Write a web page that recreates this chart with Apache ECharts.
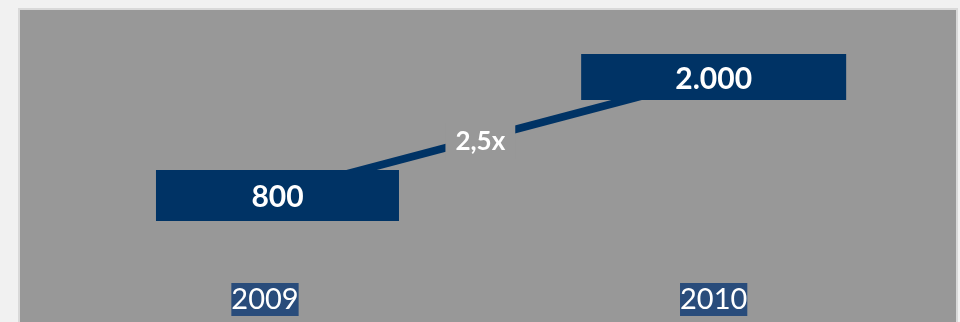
<!DOCTYPE html>
<html>
<head>
<meta charset="utf-8">
<script src="https://cdn.jsdelivr.net/npm/echarts@6/dist/echarts.min.js"></script>
<style>
  html, body { margin: 0; padding: 0; background: #f1f1f1; }
  #chart { width: 960px; height: 322px; }
</style>
</head>
<body>
<div id="chart"></div>
<script>
const categories = ['2009', '2010'];
const revenue = [800, 2000];
const growthLabel = '2,5x';

const navy = '#003365';
const panelGrey = '#989898';
// box sizes / offset per year (styling)
const boxW = [243, 265];
const boxH = [51, 46];
const boxDx = [12.5, 0];

const fmt = v => String(v).replace(/\B(?=(\d{3})+(?!\d))/g, '.');

const myChart = echarts.init(document.getElementById('chart'));
myChart.setOption({
  backgroundColor: '#f1f1f1',
  animation: false,
  graphic: [
    {
      type: 'rect',
      z: -10,
      shape: { x: 19, y: 9, width: 938, height: 320 },
      style: { fill: panelGrey, stroke: '#d9d9d9', lineWidth: 2 }
    }
  ],
  grid: { left: 40.65, right: 22, top: 37.5, bottom: 47.5, outerBoundsMode: 'none' },
  xAxis: {
    type: 'category',
    data: categories,
    axisLine: { show: false },
    axisTick: { show: false },
    splitLine: { show: false },
    axisLabel: {
      color: '#fff',
      fontFamily: 'Lato',
      fontSize: 29,
      lineHeight: 33,
      backgroundColor: '#294c7b',
      padding: [0, 0],
      margin: 8.5
    }
  },
  yAxis: { type: 'value', min: 0, max: 2400, show: false },
  series: [
    {
      // verbindungslinie
      type: 'line',
      data: revenue,
      showSymbol: false,
      z: 1,
      lineStyle: { color: navy, width: 8 },
      silent: true
    },
    {
      // 2,5x label on the line
      type: 'custom',
      z: 2,
      data: [[0, revenue[0], 1, revenue[1]]],
      renderItem: (params, api) => {
        const p0 = api.coord([api.value(0), api.value(1)]);
        const p1 = api.coord([api.value(2), api.value(3)]);
        const t = 0.48;
        return {
          type: 'text',
          style: {
            text: growthLabel,
            x: p0[0] + (p1[0] - p0[0]) * t,
            y: p0[1] + (p1[1] - p0[1]) * t + 3,
            align: 'center',
            verticalAlign: 'middle',
            fill: '#fff',
            fontFamily: 'Lato',
            fontWeight: 'bold',
            fontSize: 26,
            backgroundColor: panelGrey,
            padding: [5, 10]
          }
        };
      }
    },
    {
      type: 'custom',
      z: 3,
      data: revenue.map((v, i) => [i, v]),
      renderItem: (params, api) => {
        const i = params.dataIndex;
        const p = api.coord([api.value(0), api.value(1)]);
        const cx = p[0] + boxDx[i];
        const w = boxW[i], h = boxH[i];
        return {
          type: 'group',
          children: [
            {
              type: 'rect',
              shape: { x: cx - w / 2, y: p[1] - h / 2, width: w, height: h },
              style: { fill: navy }
            },
            {
              type: 'text',
              style: {
                text: fmt(api.value(1)),
                x: cx,
                y: p[1] + 2,
                align: 'center',
                verticalAlign: 'middle',
                fill: '#fff',
                fontFamily: 'Lato',
                fontWeight: 'bold',
                fontSize: 30
              }
            }
          ]
        };
      }
    }
  ]
});
</script>
</body>
</html>
